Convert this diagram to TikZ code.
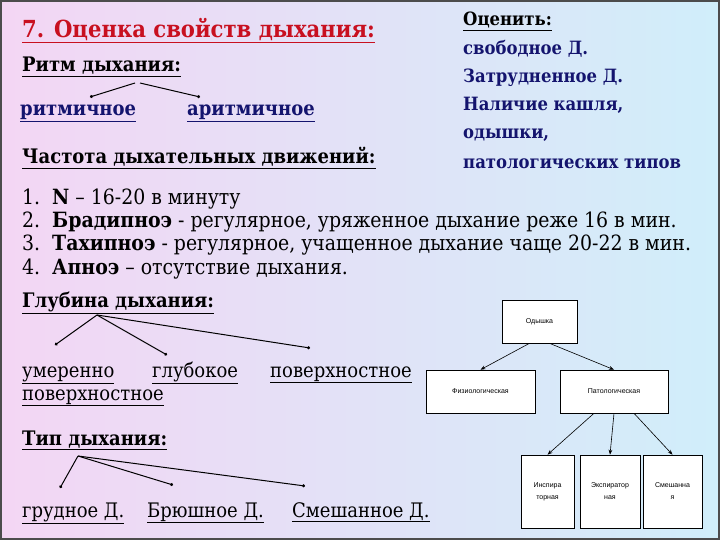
\documentclass[tikz,border=0pt]{standalone}
\usepackage{fontspec}
\newfontfamily\tnr{DejaVu Serif Condensed}
\newfontfamily\boxfont{Liberation Sans}
\usetikzlibrary{arrows.meta}
\definecolor{bgl}{RGB}{244,214,244}
\definecolor{bgr}{RGB}{208,238,250}
\definecolor{ttl}{RGB}{200,16,32}
\definecolor{nvy}{RGB}{20,20,110}
\newcommand{\ul}[1]{\underline{#1}}
\tikzset{
 txt/.style={anchor=base west,inner sep=0pt},
 hd/.style={txt,font=\tnr\fontsize{20}{22}\selectfont\bfseries},
 body/.style={txt,font=\tnr\fontsize{21}{23}\selectfont},
 lbl/.style={txt,font=\tnr\fontsize{20}{22}\selectfont},
 rc/.style={txt,font=\tnr\fontsize{18.3}{20}\selectfont\bfseries,text=nvy},
 lk/.style={draw=black,line width=1pt,-{Circle[length=3pt]}},
 bx/.style={draw=black,fill=white,line width=0.6pt,align=center,font=\boxfont\fontsize{7}{12}\selectfont},
 ba/.style={draw=black,line width=0.6pt,-{Stealth[length=5pt]}}
}
\begin{document}
\begin{tikzpicture}[x=1pt,y=-1pt]
\useasboundingbox (0,0) rectangle (720,540);
\shade[left color=bgl,right color=bgr] (0,0) rectangle (720,540);
\draw[line width=2pt,draw=black!70] (1,1) rectangle (719,539);
\node[txt,font=\tnr\fontsize{23.5}{25}\selectfont\bfseries,text=ttl] (t) at (22,38) {\ul{7. Оценка свойств дыхания:}};
\node[hd] (r) at (22,72) {\ul{Ритм дыхания:}};
\node[hd,text=nvy] (r1) at (20,116) {\ul{ритмичное}};
\node[hd,text=nvy] (r2) at (187,116) {\ul{аритмичное}};
\coordinate (ra) at (135,83); \coordinate (rb) at (140,83);
\coordinate (r1t) at (90,97); \coordinate (r2t) at (200,97);
\draw[lk] (ra) -- (r1t); \draw[lk] (rb) -- (r2t);
\node[hd] (ch) at (22,164) {\ul{Частота дыхательных движений:}};
\node[txt,font=\tnr\fontsize{18.3}{20}\selectfont\bfseries] (o) at (463,26) {\ul{Оценить:}};
\node[rc] (o1) at (463,55) {свободное Д.};
\node[rc] (o2) at (463,83) {Затрудненное Д.};
\node[rc] (o3) at (463,111) {Наличие кашля,};
\node[rc] (o4) at (463,139) {одышки,};
\node[rc] (o5) at (463,169) {патологических типов};
\node[body] (l1) at (22,205) {1.\ \ \textbf{N} – 16-20 в минуту};
\node[body] (l2) at (22,228) {2.\ \ \textbf{Брадипноэ} - регулярное, уряженное дыхание реже 16 в мин.};
\node[body] (l3) at (22,251) {3.\ \ \textbf{Тахипноэ} - регулярное, учащенное дыхание чаще 20-22 в мин.};
\node[body] (l4) at (22,274) {4.\ \ \textbf{Апноэ} – отсутствие дыхания.};
\node[hd] (g) at (22,307) {\ul{Глубина дыхания:}};
\coordinate (ga) at (97,315);
\coordinate (g1) at (55,345); \coordinate (g2) at (167,355); \coordinate (g3) at (310,348);
\draw[lk] (ga) -- (g1); \draw[lk] (ga) -- (g2); \draw[lk] (ga) -- (g3);
\node[lbl] (u1) at (22,377) {\ul{умеренно}};
\node[lbl] (u2) at (152,377) {\ul{глубокое}};
\node[lbl] (u3) at (270,377) {\ul{поверхностное}};
\node[lbl] (u4) at (22,400) {\ul{поверхностное}};
\node[hd] (tp) at (22,445) {\ul{Тип дыхания:}};
\coordinate (ta) at (78,456);
\coordinate (t1) at (60,488); \coordinate (t2) at (173,485); \coordinate (t3) at (305,486);
\draw[lk] (ta) -- (t1); \draw[lk] (ta) -- (t2); \draw[lk] (ta) -- (t3);
\node[lbl] (p1) at (22,517) {\ul{грудное Д.}};
\node[lbl] (p2) at (147,517) {\ul{Брюшное Д.}};
\node[lbl] (p3) at (292,517) {\ul{Смешанное Д.}};
\node[bx,minimum width=75pt,minimum height=43pt] (b0) at (539.5,321.5) {Одышка};
\node[bx,minimum width=109pt,minimum height=43pt] (b1) at (480.5,391.5) {Физиологическая};
\node[bx,minimum width=108pt,minimum height=43pt] (b2) at (614,391.5) {Патологическая};
\node[bx,minimum width=53pt,minimum height=73pt] (b3) at (547.5,491.5) {Инспира\\торная};
\node[bx,minimum width=60pt,minimum height=73pt] (b4) at (610,491.5) {Экспиратор\\ная};
\node[bx,minimum width=59pt,minimum height=73pt] (b5) at (672.5,491.5) {Смешанна\\я};
\draw[ba] (b0.south) ++(-10,0) coordinate (s0a) (s0a) -- (b1.north);
\draw[ba] (b0.south) ++(10,0) coordinate (s0b) (s0b) -- (b2.north);
\draw[ba] (b2.south) ++(-20,0) coordinate (s2a) (s2a) -- (b3.north);
\draw[ba] (b2.south) -- (b4.north);
\draw[ba] (b2.south) ++(20,0) coordinate (s2b) (s2b) -- (b5.north);
\end{tikzpicture}
\end{document}
